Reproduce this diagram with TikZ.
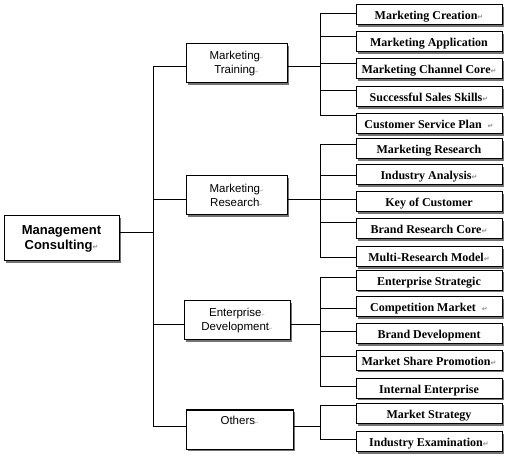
\documentclass[tikz,border=0pt]{standalone}
\usepackage{fontspec}
\setmainfont{Liberation Serif}
\newfontfamily\arialf{Liberation Sans}
\newfontfamily\dvf{DejaVu Sans}
\usetikzlibrary{shadows}
\newcommand\rmk{{\dvf\color{black!45}\fontsize{7}{7}\selectfont ↵}}
\newcommand\smk{{\dvf\color{black!45}\fontsize{4}{4}\selectfont ↵}}
\begin{document}
\begin{tikzpicture}[x=1pt,y=-1pt,
 box/.style={draw, line width=1pt, fill=white, inner sep=0pt,
   drop shadow={shadow xshift=2pt,shadow yshift=-2pt,fill=black!55,opacity=1}},
 leaf/.style={box, minimum width=146pt, minimum height=20pt,
   text height=9.5pt, text depth=0pt,
   font=\fontsize{12}{12}\selectfont\bfseries},
 mid/.style={box, align=center, font=\arialf\fontsize{11.5}{14}\selectfont},
 conn/.style={line width=1pt}]
\useasboundingbox (0,0) rectangle (512,457);
% root
\node[box, minimum width=115pt, minimum height=45pt, align=center,
  font=\arialf\bfseries\fontsize{13}{15}\selectfont] (root) at (61.5,238.5) {Management\\Consulting\rmk};
% mid level
\node[mid, minimum width=101pt, minimum height=39pt] (mt) at (236.5,63.5) {Marketing\smk\\Training\smk};
\node[mid, minimum width=101pt, minimum height=39pt] (mr) at (236.5,195.5) {Marketing\smk\\Research\smk};
\node[mid, minimum width=106pt, minimum height=39pt] (ed) at (237,320.5) {Enterprise\smk\\Development\smk};
\node[mid, minimum width=107pt, minimum height=39pt] (ot) at (239.5,429.5) {Others\smk\\\strut};
% leaves
\node[leaf] (l11) at (429,15) {Marketing Creation\rmk};
\node[leaf] (l12) at (429,42) {Marketing Application};
\node[leaf] (l13) at (429,69) {Marketing Channel Core\rmk};
\node[leaf] (l14) at (429,97) {Successful Sales Skills\rmk};
\node[leaf] (l15) at (429,124) {Customer Service Plan\ \ \rmk};
\node[leaf] (l21) at (429,149) {Marketing Research};
\node[leaf] (l22) at (429,175) {Industry Analysis\rmk};
\node[leaf] (l23) at (429,202) {Key of Customer};
\node[leaf] (l24) at (429,229) {Brand Research Core\rmk};
\node[leaf] (l25) at (429,257) {Multi-Research Model\rmk};
\node[leaf] (l31) at (429,280.5) {Enterprise Strategic};
\node[leaf] (l32) at (429,307) {Competition Market\ \ \rmk};
\node[leaf] (l33) at (429,334) {Brand Development};
\node[leaf] (l34) at (429,360.5) {Market Share Promotion\rmk};
\node[leaf] (l35) at (429,388.5) {Internal Enterprise};
\node[leaf] (l41) at (429,413.5) {Market Strategy};
\node[leaf] (l42) at (429,441.5) {Industry Examination\rmk};
% trunk
\coordinate (rt) at (153,233);
\coordinate (t1) at (153,67);
\coordinate (t2) at (153,200);
\coordinate (t3) at (153,325);
\coordinate (t4) at (153,426);
\draw[conn] (root.east |- rt) -- (rt);
\draw[conn] (t1) -- (t4);
\draw[conn] (t1) -- (t1 -| mt.west);
\draw[conn] (t2) -- (t2 -| mr.west);
\draw[conn] (t3) -- (t3 -| ed.west);
\draw[conn] (t4) -- (t4 -| ot.west);
% group buses
\coordinate (b1) at (320,67);
\coordinate (b2) at (320,200);
\coordinate (b3) at (320,325);
\coordinate (b4) at (320,426);
\draw[conn] (b1 -| mt.east) -- (b1);
\draw[conn] (b2 -| mr.east) -- (b2);
\draw[conn] (b3 -| ed.east) -- (b3);
\draw[conn] (b4 -| ot.east) -- (b4);
\foreach \n/\y in {11/14,12/37,13/64,14/91,15/116,
                   21/145,22/176,23/200,24/223,25/258,
                   31/278,32/309,33/332,34/357,35/387,
                   41/406,42/439}{
  \coordinate (c\n) at (320,\y);
  \draw[conn] (c\n) -- (c\n -| l\n.west);
}
\draw[conn] (c11) -- (c15);
\draw[conn] (c21) -- (c25);
\draw[conn] (c31) -- (c35);
\draw[conn] (c41) -- (c42);
\end{tikzpicture}
\end{document}
